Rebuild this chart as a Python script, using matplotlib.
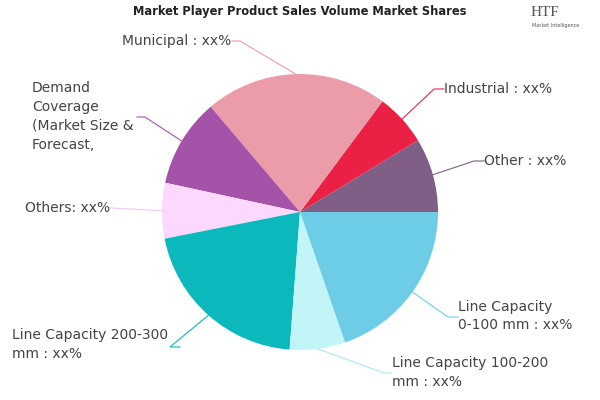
import matplotlib
matplotlib.use("Agg")
import matplotlib.pyplot as plt
import numpy as np

# slices, counter-clockwise from 3 o'clock
labels = ["Other : xx%", "Industrial : xx%", "Municipal : xx%",
          "Demand\nCoverage\n(Market Size &\nForecast,", "Others: xx%",
          "Line Capacity 200-300\nmm : xx%", "Line Capacity 100-200\nmm : xx%",
          "Line Capacity\n0-100 mm : xx%"]
shares = [8.7, 6.1, 21.4, 10.4, 6.5, 20.7, 6.5, 19.7]
colors = ["#7f5f86", "#ea2144", "#eb9ca8", "#a453a8", "#fcd8fc",
          "#0bb9bd", "#c2f5f7", "#6dcde6"]
linecolors = ["#7f5f86", "#ea2144", "#eb9ca8", "#a453a8", "#f3c6f3",
              "#0bb9bd", "#a8ecf0", "#6dcde6"]

# leader end at the text and its elbow (px from top-left)
textpos = [(484, 161), (444, 89), (232, 41), (137, 117), (110, 208),
           (180, 347), (392, 373), (458, 317)]
elbow = [(474, 161), (434, 89), (240, 41), (145, 117), (112, 208),
         (170, 347), (384, 373), (448, 317)]

H = 400
cx, cy, r = 300, 212, 138

fig = plt.figure(figsize=(6, 4), dpi=100)
ax = fig.add_axes([0, 0, 1, 1])

wedges, _ = ax.pie(shares, colors=colors, startangle=0, counterclock=True,
                   center=(cx, H - cy), radius=r, wedgeprops=dict(linewidth=0))
ax.set_xlim(0, 600)
ax.set_ylim(0, H)
ax.set_aspect("equal")
ax.axis("off")

for i, w in enumerate(wedges):
    mid = np.deg2rad((w.theta1 + w.theta2) / 2)
    px = cx + r * np.cos(mid)
    py = (H - cy) + r * np.sin(mid)
    ex, ey = elbow[i]
    tx, ty = textpos[i]
    ax.plot([px, ex, tx], [py, H - ey, H - ty], color=linecolors[i], lw=0.8)

# label texts
txt = dict(fontsize=10, color="#444444", family="DejaVu Sans")
ax.text(484, H - 161, labels[0], ha="left", va="center", **txt)
ax.text(444, H - 89, labels[1], ha="left", va="center", **txt)
ax.text(122, H - 41, labels[2], ha="left", va="center", **txt)
ax.text(32, H - 116.5, labels[3], ha="left", va="center", linespacing=1.45, **txt)
ax.text(25, H - 208, labels[4], ha="left", va="center", **txt)
ax.text(12, H - 344.5, labels[5], ha="left", va="center", linespacing=1.42, **txt)
ax.text(392, H - 372.5, labels[6], ha="left", va="center", linespacing=1.42, **txt)
ax.text(458, H - 316, labels[7], ha="left", va="center", linespacing=1.42, **txt)

# title
ax.text(300, H - 12, "Market Player Product Sales Volume Market Shares",
        ha="center", va="center", fontsize=9.2, fontweight="bold",
        family=["DejaVu Sans Condensed", "Liberation Sans Narrow", "DejaVu Sans"],
        fontstretch="condensed", color="#222222")

# logo
ax.text(545, H - 12, "HTF", ha="center", va="center", fontsize=11,
        family="Liberation Serif", color="#555555")
ax.text(556, H - 25, "Market Intelligence", ha="center", va="center",
        fontsize=3.5, color="#555555")

fig.savefig("out.png", dpi=100)
